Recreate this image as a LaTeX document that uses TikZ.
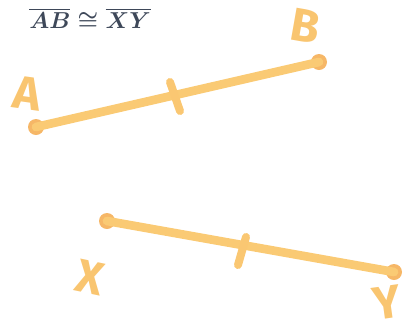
\documentclass[tikz,border=0pt]{standalone}
\usepackage{amssymb}
\usepackage{fontspec}
\newfontfamily\markerfont{Fira Sans}
\definecolor{MarkerOrange}{HTML}{FACA74}
\definecolor{MarkerDot}{HTML}{F5AF62}
\definecolor{SlateInk}{HTML}{3E4859}
\begin{document}
\begin{tikzpicture}[
  x=0.75pt, y=-0.75pt,
  marker/.style={draw=MarkerOrange, line width=6.5pt, line cap=round},
  tickmark/.style={draw=MarkerOrange!90!MarkerDot, line width=6pt, line cap=round},
  endpt/.style={circle, fill=MarkerDot!70!MarkerOrange, inner sep=0pt, minimum size=12pt},
  letter/.style={text=MarkerOrange!80!MarkerDot, font=\markerfont\bfseries\fontsize{35}{35}\selectfont, inner sep=0pt},
  eqtext/.style={text=SlateInk, font=\fontsize{17.5}{17.5}\selectfont\boldmath, inner sep=0pt}
]
\useasboundingbox (0,0) rectangle (404,326);
\node[eqtext] (eq) at (90,19) {$\overline{AB}\cong\overline{XY}$};
% segment AB
\node[endpt] (A) at (36,127) {};
\node[endpt] (B) at (319,62) {};
\draw[marker] (A.center) -- (B.center);
\coordinate (ab1) at (170,82);
\coordinate (ab2) at (180,111);
\draw[tickmark] (ab1) -- (ab2);
\node[letter, rotate=-8] (lA) at (27,93) {A};
\node[letter, rotate=-10] (lB) at (305,26) {B};
% segment XY
\node[endpt] (X) at (107,221) {};
\node[endpt] (Y) at (394,272) {};
\draw[marker] (X.center) -- (Y.center);
\coordinate (xy1) at (246,237);
\coordinate (xy2) at (238,265);
\draw[tickmark] (xy1) -- (xy2);
\node[letter, rotate=-12] (lX) at (90,277) {X};
\node[letter, rotate=8] (lY) at (387,303) {Y};
\end{tikzpicture}
\end{document}
